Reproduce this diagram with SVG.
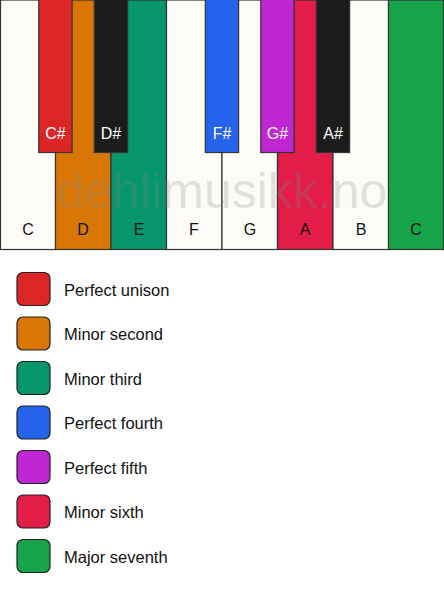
<svg xmlns="http://www.w3.org/2000/svg" width="444" height="594" viewBox="0 0 444 594">
<style>
.w{stroke:#333;stroke-width:1.2}
.b{stroke:#333;stroke-width:1.2}
.lw{font-family:"Liberation Sans",Arial,sans-serif;font-size:16px;fill:#111;text-anchor:middle}
.lb{font-family:"Liberation Sans",Arial,sans-serif;font-size:16px;fill:#fff;text-anchor:middle}
.sw{stroke:#222;stroke-width:1.2}
.lt{font-family:"Liberation Sans",Arial,sans-serif;font-size:16.5px;fill:#111}
</style>
<rect width="444" height="594" fill="#ffffff"/>
<g id="white-keys">
<g id="key-C"><rect class="w" x="0.5" y="0" width="55" height="249.5" fill="#fdfcf9"/><text class="lw" x="28" y="235">C</text></g>
<g id="key-D"><rect class="w" x="55.5" y="0" width="55.5" height="249.5" fill="#d97706"/><text class="lw" x="83" y="235">D</text></g>
<g id="key-E"><rect class="w" x="111" y="0" width="55.5" height="249.5" fill="#059669"/><text class="lw" x="139" y="235">E</text></g>
<g id="key-F"><rect class="w" x="166.5" y="0" width="55.5" height="249.5" fill="#fdfcf9"/><text class="lw" x="194" y="235">F</text></g>
<g id="key-G"><rect class="w" x="222" y="0" width="55.5" height="249.5" fill="#fdfcf9"/><text class="lw" x="250" y="235">G</text></g>
<g id="key-A"><rect class="w" x="277.5" y="0" width="55.5" height="249.5" fill="#e11d48"/><text class="lw" x="305" y="235">A</text></g>
<g id="key-B"><rect class="w" x="333" y="0" width="55.5" height="249.5" fill="#fdfcf9"/><text class="lw" x="361" y="235">B</text></g>
<g id="key-C2"><rect class="w" x="388.5" y="0" width="55" height="249.5" fill="#16a34a"/><text class="lw" x="416" y="235">C</text></g>
</g>
<text x="222" y="208" font-family="Liberation Sans,Arial,sans-serif" font-size="50" text-anchor="middle" fill="#888" fill-opacity="0.25">dehlimusikk.no</text>
<g id="black-keys">
<g id="key-Cs"><rect class="b" x="38.8" y="-1" width="33.3" height="153.5" fill="#dc2626"/><text class="lb" x="55.5" y="139">C#</text></g>
<g id="key-Ds"><rect class="b" x="94.3" y="-1" width="33.3" height="153.5" fill="#1c1c1c"/><text class="lb" x="111" y="139">D#</text></g>
<g id="key-Fs"><rect class="b" x="205.3" y="-1" width="33.3" height="153.5" fill="#2563eb"/><text class="lb" x="222" y="139">F#</text></g>
<g id="key-Gs"><rect class="b" x="260.8" y="-1" width="33.3" height="153.5" fill="#c026d3"/><text class="lb" x="277.5" y="139">G#</text></g>
<g id="key-As"><rect class="b" x="316.3" y="-1" width="33.3" height="153.5" fill="#1c1c1c"/><text class="lb" x="333" y="139">A#</text></g>
</g>
<g id="legend">
<g id="leg-1"><rect class="sw" x="17" y="272.5" width="33" height="33" rx="6" fill="#dc2626"/><text class="lt" x="64" y="295.5">Perfect unison</text></g>
<g id="leg-2"><rect class="sw" x="17" y="317" width="33" height="33" rx="6" fill="#d97706"/><text class="lt" x="64" y="340">Minor second</text></g>
<g id="leg-3"><rect class="sw" x="17" y="361.5" width="33" height="33" rx="6" fill="#059669"/><text class="lt" x="64" y="384.5">Minor third</text></g>
<g id="leg-4"><rect class="sw" x="17" y="406" width="33" height="33" rx="6" fill="#2563eb"/><text class="lt" x="64" y="429">Perfect fourth</text></g>
<g id="leg-5"><rect class="sw" x="17" y="450.5" width="33" height="33" rx="6" fill="#c026d3"/><text class="lt" x="64" y="473.5">Perfect fifth</text></g>
<g id="leg-6"><rect class="sw" x="17" y="495" width="33" height="33" rx="6" fill="#e11d48"/><text class="lt" x="64" y="518">Minor sixth</text></g>
<g id="leg-7"><rect class="sw" x="17" y="539.5" width="33" height="33" rx="6" fill="#16a34a"/><text class="lt" x="64" y="562.5">Major seventh</text></g>
</g>
</svg>
